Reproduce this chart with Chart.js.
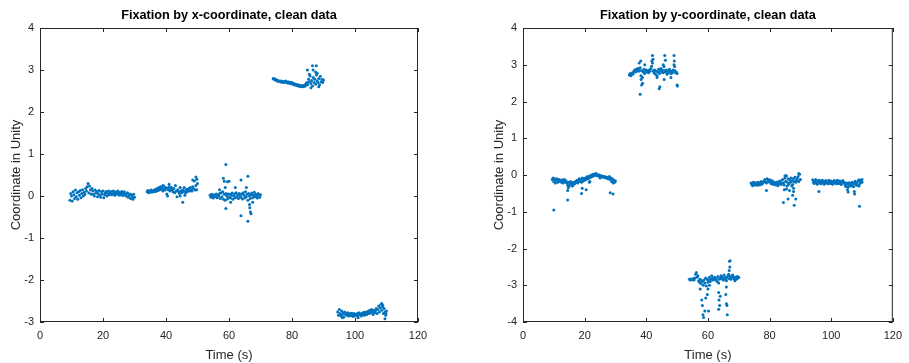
<!DOCTYPE html>
<html>
<head>
<meta charset="utf-8">
<script src="https://cdn.jsdelivr.net/npm/chart.js@4"></script>
<style>
  body { margin: 0; background: #fff; width: 909px; height: 363px; overflow: hidden; position: relative; }
  .panel { position: absolute; top: 0; }
</style>
</head>
<body>
<div class="panel" style="left:0"><canvas id="xChart" width="454" height="363"></canvas></div>
<div class="panel" style="left:483px"><canvas id="yChart" width="426" height="363"></canvas></div>
<script>
// samples are 0.25 s apart, each segment starts at the time given below
const sampleStep = 0.25;
const xTicks = [0, 20, 40, 60, 80, 100, 120];

// ---- fixation by x-coordinate ----
const xStarts = [9.5, 34, 54, 74, 94.5];
const xSegA = [-0.1, 0.06, 0.0, -0.12, 0.1, 0.03, -0.06, 0.14, -0.02, 0.08, -0.08,
  0.1, 0.02, 0.13, -0.04, 0.06, 0.15, 0.0, 0.09,
  0.04, 0.18, 0.12, 0.22, 0.3, 0.08, 0.24, 0.15, 0.04, 0.18,
  0.12, 0.04, 0.0, 0.14, 0.07, 0.11, -0.02, 0.06, 0.13, 0.02, -0.03, 0.1, 0.05, 0.12,
  -0.04, 0.03, 0.08, 0.11, 0.0, 0.06, 0.12, 0.03,
  0.07, 0.11, 0.03, 0.05, 0.12, 0.08, 0.02, 0.1, 0.06, 0.04, 0.12, 0.07, 0.02, 0.09, 0.05, 0.11, 0.01, 0.07, 0.1, 0.04,
  0.0, 0.06, 0.08, -0.03, 0.02, 0.05, -0.06, 0.03, -0.01, -0.08, 0.04, -0.03];
const xSegB = [0.1, 0.13, 0.08, 0.12, 0.1, 0.14, 0.09, 0.12, 0.11,
  0.14, 0.1, 0.16, 0.12, 0.18, 0.13, 0.2, 0.15,
  0.22, 0.16, 0.19, 0.12, 0.24, 0.17, 0.14, 0.2, 0.05, 0.18, 0.15, 0.22, 0.12, 0.17, 0.2, 0.14,
  0.1, 0.18, 0.08, 0.25, 0.12, -0.02, 0.15, 0.1, 0.06, 0.2, 0.12, 0.08,
  0.14, 0.1, 0.2, 0.12, 0.08, 0.16, 0.1, 0.14, 0.18, 0.12, 0.2, 0.15,
  0.12, 0.22, 0.18, 0.36, 0.14, 0.25, 0.15, 0.3];
const xSegC = [0.02, -0.03, 0.04, 0.0, -0.05, 0.03, 0.01, -0.02, 0.05, -0.04, 0.02, 0.0, 0.06,
  -0.06, 0.08, -0.02, 0.1, -0.08, 0.04, -0.1, 0.06, 0.0, -0.07, 0.05, -0.03,
  0.04, -0.05, 0.02, 0.07, -0.08, 0.0, 0.05, -0.04, 0.08, -0.02, 0.03, -0.06, 0.06, 0.0, -0.03, 0.05,
  -0.07, 0.08, 0.02, -0.05, 0.1, -0.02, 0.04, -0.1, 0.06, 0.0, -0.06, 0.03,
  0.07, -0.04, 0.02, 0.09, -0.02, 0.04, 0.0, -0.05, 0.06, 0.02, -0.03, 0.03];
const xSegD = [2.8, 2.78, 2.79, 2.76, 2.77, 2.74, 2.75, 2.73, 2.74,
  2.72, 2.74, 2.71, 2.73, 2.72, 2.7, 2.72, 2.74, 2.71, 2.69, 2.72, 2.7, 2.68, 2.71, 2.67, 2.7,
  2.68, 2.65, 2.67, 2.64, 2.66, 2.63, 2.65, 2.62, 2.64, 2.61, 2.63, 2.62, 2.6, 2.63, 2.61, 2.64,
  2.62, 2.68, 2.7, 2.65, 2.78, 2.72, 2.86, 2.68,
  2.75, 2.62, 2.82, 2.7, 2.78, 2.66, 2.88, 2.74, 2.7, 2.8, 2.65, 2.85, 2.72, 2.78, 2.7, 2.76];
const xSegE = [-2.76, -2.84, -2.7, -2.8, -2.86, -2.74, -2.82, -2.78, -2.88, -2.76, -2.82,
  -2.8, -2.84, -2.78, -2.86, -2.82, -2.8, -2.85, -2.79, -2.83, -2.87, -2.8, -2.84,
  -2.82, -2.86, -2.8, -2.84, -2.78, -2.83, -2.81, -2.86, -2.79, -2.82, -2.77, -2.84, -2.8, -2.76, -2.82, -2.78,
  -2.74, -2.8, -2.72, -2.78, -2.7, -2.76, -2.82, -2.72, -2.78, -2.74, -2.68, -2.8,
  -2.7, -2.62, -2.76, -2.66, -2.58, -2.72, -2.64, -2.8, -2.68, -2.76, -2.84, -2.74];
const xOutliers = [[45.3, -0.15], [46, 0.02], [44.5, 0.0], [49.5, 0.45], [49.8, 0.4], [48.5, 0.38], [40.5, 0.0], [41, 0.28], [39, 0.25],
  [59, 0.75], [58.2, 0.42], [58.5, 0.35], [59.5, 0.34], [60, 0.35], [58.8, 0.2], [59, -0.3], [60.5, -0.15],
  [63.8, 0.38], [63.8, -0.47], [66, 0.47], [66, -0.6], [66.6, -0.28], [66.8, -0.38], [67, -0.42], [66.5, -0.2],
  [65.5, 0.2], [62, 0.2], [57, 0.15], [67.5, -0.15],
  [84.9, 3.0], [86.5, 3.1], [87.7, 3.1], [86.7, 3.0], [87.5, 2.95], [88, 2.92], [85.5, 2.9], [88.5, 2.6], [86, 2.58],
  [108.5, -2.56], [108.8, -2.6], [109.5, -2.92], [101, -2.9], [96, -2.9], [109.8, -2.8]];

// ---- fixation by y-coordinate ----
const yStarts = [9.5, 34.5, 54, 74, 94];
const ySegA = [-0.12, -0.08, -0.18, -0.1, -0.22, -0.14, -0.1, -0.2, -0.16, -0.12, -0.18,
  -0.15, -0.2, -0.13, -0.22, -0.17, -0.12, -0.2, -0.16,
  -0.22, -0.28, -0.2, -0.3, -0.24, -0.18, -0.26, -0.22, -0.28, -0.2, -0.24, -0.18,
  -0.2, -0.14, -0.22, -0.16, -0.1, -0.18, -0.12, -0.2, -0.08, -0.16, -0.1, -0.14,
  -0.08, -0.12, -0.05, -0.1, -0.04, -0.08, -0.02, -0.06, 0.0, -0.04, 0.02, -0.02,
  0.03, 0.0, 0.04, -0.02, 0.01, -0.03, 0.0, -0.04, -0.02, -0.05, -0.03, -0.06,
  -0.04, -0.07, -0.05, -0.08, -0.06, -0.1, -0.07, -0.04, -0.12, -0.08, -0.18, -0.1, -0.22, -0.14, -0.2, -0.16];
const ySegB = [2.72, 2.76, 2.7, 2.74, 2.78, 2.75, 2.82,
  2.86, 2.8, 2.88, 2.84, 2.9, 2.82, 2.86, 2.92,
  2.7, 2.84, 2.65, 2.8, 2.88, 2.76, 2.82, 2.86,
  2.8, 2.84, 2.78, 2.86, 2.82, 2.9, 2.96, 3.05,
  2.84, 2.78, 2.86, 2.74, 2.82, 2.7, 2.8, 2.88,
  2.76, 2.84, 2.9, 2.8, 2.86, 2.78, 2.95, 2.84,
  2.8, 2.86, 2.74, 2.82, 2.78, 2.88, 2.84, 2.76,
  2.82, 2.78, 2.86, 3.0, 2.84, 2.78, 2.8, 2.76];
const ySegC = [-2.84, -2.86, -2.83, -2.85, -2.84, -2.82, -2.86, -2.8, -2.7,
  -2.65, -2.78, -2.74, -2.88, -2.92, -2.84, -2.95, -2.88,
  -2.9, -3.0, -2.86, -2.94, -2.8, -3.02, -2.84, -2.92,
  -2.86, -2.78, -2.9, -2.82, -2.74, -2.86, -2.8, -2.84,
  -2.78, -2.86, -2.82, -2.9, -2.76, -2.94, -2.84, -2.8,
  -2.74, -2.82, -2.78, -2.86, -2.72, -2.84, -2.78, -2.88,
  -2.8, -2.74, -2.7, -2.82, -2.76, -2.84, -2.78, -2.72,
  -2.76, -2.82, -2.88, -2.78, -2.84, -2.76, -2.8, -2.78];
const ySegD = [-0.22, -0.26, -0.29, -0.2, -0.24, -0.27, -0.21, -0.25, -0.28,
  -0.2, -0.24, -0.27, -0.21, -0.18, -0.25, -0.22, -0.19,
  -0.16, -0.12, -0.2, -0.22, -0.1, -0.15, -0.19, -0.13,
  -0.18, -0.24, -0.15, -0.21, -0.26, -0.19, -0.23, -0.27,
  -0.2, -0.25, -0.29, -0.18, -0.23, -0.16, -0.26, -0.21,
  -0.12, -0.22, -0.27, -0.08, -0.17, -0.02, -0.2, -0.1,
  -0.25, -0.12, -0.2, -0.08, -0.16, -0.26, -0.1, -0.18,
  -0.06, -0.2, -0.14, -0.1, -0.04, -0.18, 0.02, -0.12];
const ySegE = [-0.13, -0.2, -0.23, -0.16, -0.12, -0.21, -0.25, -0.17, -0.14,
  -0.22, -0.18, -0.24, -0.14, -0.2, -0.16, -0.25, -0.19,
  -0.15, -0.22, -0.2, -0.24, -0.14, -0.18, -0.23, -0.16,
  -0.21, -0.25, -0.17, -0.15, -0.22, -0.19, -0.24, -0.14,
  -0.18, -0.23, -0.16, -0.21, -0.26, -0.19, -0.15, -0.22,
  -0.2, -0.27, -0.31, -0.22, -0.25, -0.33, -0.21, -0.28,
  -0.24, -0.3, -0.2, -0.26, -0.32, -0.22, -0.17, -0.27,
  -0.22, -0.28, -0.16, -0.13, -0.24, -0.19, -0.14, -0.2];
const yOutliers = [[10, -0.95], [14.5, -0.68], [14.5, -0.42], [14.7, -0.35], [19, -0.5], [19.2, -0.36], [20.5, -0.4],
  [21.5, -0.2], [21.7, -0.18], [28.3, -0.48], [29.2, -0.52], [16, -0.3], [25, -0.08],
  [38, 2.2], [38.5, 2.45], [38.8, 2.5], [38.3, 2.6], [37.7, 3.05], [38.2, 3.1], [42, 3.25], [41.8, 3.1], [42.2, 3.15],
  [44.2, 2.35], [44.4, 2.4], [43.5, 2.65], [45.5, 3.0], [46, 3.25], [46.2, 3.12], [45.8, 2.6], [49, 3.25], [49.1, 3.1],
  [49.2, 2.95], [50.1, 2.42], [50, 2.45], [39.5, 3.0], [48, 2.65],
  [58, -3.4], [58.2, -3.55], [58.4, -3.8], [58.6, -3.88], [59, -3.7], [59.3, -3.35], [59.8, -3.25], [60, -3.1],
  [60.2, -3.7], [57.5, -3.1], [63.5, -3.2], [63.6, -3.4], [63.5, -3.65], [63.8, -3.55], [64, -3.3], [66, -3.5],
  [66.2, -3.55], [66.3, -3.8], [65.8, -3.25], [66, -3.05], [67, -2.35], [67.2, -2.33], [67.1, -2.5], [66.9, -2.6], [60.5, -3.0],
  [79, -0.42], [84.5, -0.75], [84.8, -0.4], [85.5, -0.38], [86, -0.65], [85.7, -0.3], [86.5, -0.42], [87.5, -0.55],
  [87.8, -0.45], [88, -0.82], [88.5, -0.65], [87.2, -0.3], [87.8, -0.36], [85, -0.02], [89.5, 0.04],
  [96, -0.45], [105.3, -0.4], [105.5, -0.46], [107.5, -0.45], [107.6, -0.52], [109.2, -0.85], [109, -0.3], [110, -0.12]];

function toPoints(starts, segments, outliers) {
  const pts = [];
  segments.forEach((seg, s) => {
    seg.forEach((v, i) => pts.push({ x: starts[s] + i * sampleStep, y: v }));
  });
  outliers.forEach(([t, v]) => pts.push({ x: t, y: v }));
  return pts;
}

// matlab style box: frame all round, ticks pointing inwards, title over the axes
const axesBox = {
  id: 'axesBox',
  afterDraw(chart, args, opts) {
    const { ctx, chartArea: a, scales } = chart;
    ctx.save();
    ctx.strokeStyle = '#262626';
    ctx.lineWidth = 1;
    ctx.strokeRect(a.left + 0.5, a.top + 0.5, a.right - a.left - 1, a.bottom - a.top - 1);
    ctx.beginPath();
    scales.x.ticks.forEach(t => {
      const px = Math.round(scales.x.getPixelForValue(t.value)) + 0.5;
      ctx.moveTo(px, a.bottom); ctx.lineTo(px, a.bottom - 4);
      ctx.moveTo(px, a.top); ctx.lineTo(px, a.top + 4);
    });
    scales.y.ticks.forEach(t => {
      const py = Math.round(scales.y.getPixelForValue(t.value)) + 0.5;
      ctx.moveTo(a.left, py); ctx.lineTo(a.left + 4, py);
      ctx.moveTo(a.right, py); ctx.lineTo(a.right - 4, py);
    });
    ctx.stroke();
    ctx.fillStyle = '#000';
    ctx.font = 'bold 12.7px "Liberation Sans", Arial, sans-serif';
    ctx.textAlign = 'center';
    ctx.textBaseline = 'middle';
    ctx.fillText(opts.text, (a.left + a.right) / 2, 15);
    ctx.restore();
  }
};

function makeChart(id, title, points, yMin, yMax, padRight) {
  const tickFont = { family: '"Liberation Sans", Arial, sans-serif', size: 11 };
  const titleFont = { family: '"Liberation Sans", Arial, sans-serif', size: 13 };
  return new Chart(document.getElementById(id), {
    type: 'scatter',
    data: {
      datasets: [{
        data: points,
        pointRadius: 1.5,
        pointBorderWidth: 0,
        pointBackgroundColor: '#0072BD',
        showLine: false
      }]
    },
    options: {
      responsive: false,
      animation: false,
      layout: { padding: { top: 28, right: padRight, bottom: 0, left: 0 } },
      plugins: {
        legend: { display: false },
        tooltip: { enabled: false },
        axesBox: { text: title }
      },
      scales: {
        x: {
          type: 'linear', min: 0, max: 120,
          afterBuildTicks: s => { s.ticks = xTicks.map(v => ({ value: v })); },
          afterFit: s => { s.height = 41; },
          grid: { display: false, drawTicks: false },
          border: { display: false },
          ticks: { color: '#262626', font: tickFont, padding: 7, maxRotation: 0 },
          title: { display: true, text: 'Time (s)', color: '#262626', font: titleFont, padding: { top: 4, bottom: 0 } }
        },
        y: {
          type: 'linear', min: yMin, max: yMax,
          ticks: { stepSize: 1, color: '#262626', font: tickFont, padding: 6 },
          afterFit: s => { s.width = 40; },
          grid: { display: false, drawTicks: false },
          border: { display: false },
          title: { display: true, text: 'Coordinate in Unity', color: '#262626', font: titleFont, padding: { top: 9, bottom: 0 } }
        }
      }
    },
    plugins: [axesBox]
  });
}

makeChart('xChart', 'Fixation by x-coordinate, clean data',
  toPoints(xStarts, [xSegA, xSegB, xSegC, xSegD, xSegE], xOutliers), -3, 4, 36);
makeChart('yChart', 'Fixation by y-coordinate, clean data',
  toPoints(yStarts, [ySegA, ySegB, ySegC, ySegD, ySegE], yOutliers), -4, 4, 11);
</script>
</body>
</html>
